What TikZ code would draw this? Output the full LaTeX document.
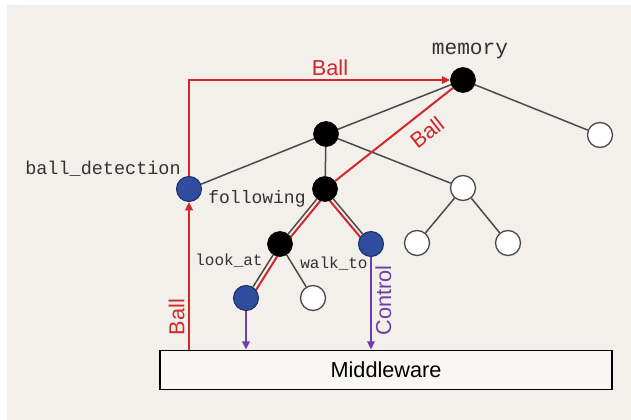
\documentclass[tikz,border=0pt]{standalone}
\usepackage{fontspec}
\setmainfont{Liberation Sans}
\setmonofont{Liberation Mono}
\usetikzlibrary{arrows.meta}
\usetikzlibrary{positioning}
\usetikzlibrary{backgrounds}
\definecolor{paper}{HTML}{F3EFEB}
\definecolor{ballred}{HTML}{D0282B}
\definecolor{ctrlpurple}{HTML}{6B3FA8}
\definecolor{behblue}{HTML}{2F4C9F}
\definecolor{edgegray}{HTML}{4A4A4A}

\begin{document}
\begin{tikzpicture}[x=0.6pt, y=-0.6pt,
	active/.style={circle, draw=black, fill=black, minimum size=15pt, inner sep=0pt},
	leaf/.style={circle, draw=behblue!60!black, fill=behblue, minimum size=15pt, inner sep=0pt, line width=0.6pt},
	idle/.style={circle, draw=edgegray, fill=white, minimum size=15pt, inner sep=0pt, line width=0.8pt},
	tag/.style={font=\ttfamily\fontsize{#1}{13}\selectfont, inner sep=0pt, text=black!80},
	edge/.style={draw=edgegray, line width=0.9pt},
	flow/.style={draw=ballred, line width=1.2pt},
	ctrl/.style={draw=ctrlpurple, line width=1.2pt},
	msg/.style={font=\fontsize{13}{15}\selectfont, inner sep=2pt},
	tip/.style={-{Triangle[length=5pt, width=4.5pt]}}
]
	\useasboundingbox (0, 0) rectangle (631, 420);
	\begin{scope}[on background layer]
		\fill[paper] (7, 5) rectangle (631, 420);
	\end{scope}

	\draw (463, 80) node[active] (memory) {};
	\draw (326, 134) node[active] (inner) {};
	\draw (600, 135) node[idle] (w1) {};
	\draw (189, 189) node[leaf] (detect) {};
	\draw (325, 189) node[active] (following) {};
	\draw (463, 188) node[idle] (w2) {};
	\draw (280, 244) node[active] (look) {};
	\draw (371, 244) node[leaf] (walkto) {};
	\draw (417, 243) node[idle] (w3) {};
	\draw (508, 243) node[idle] (w4) {};
	\draw (246, 298) node[leaf] (lookat) {};
	\draw (313, 298) node[idle] (w5) {};

	\draw (470, 51) node[tag=12.7] (memlabel) {memory};
	\draw (103, 169) node[tag=11.1] (detectlabel) {ball\_detection};
	\draw (257, 199) node[tag=10.8] (followlabel) {following};
	\draw (229, 261) node[tag=9.6] (looklabel) {look\_at};
	\draw (334, 264) node[tag=9.6] (walklabel) {walk\_to};

	\draw (386, 370) node[draw=black, line width=1pt, fill=paper!50!white, minimum width=271pt, minimum height=23.4pt, msg] (mw) {Middleware};

	\foreach \a/\b in {memory/inner, memory/w1, inner/detect, inner/following, inner/w2, following/look, following/walkto, w2/w3, w2/w4, look/lookat, look/w5}
		\draw[edge] (\a) -- (\b);

	\begin{scope}[on background layer]
		\draw[flow] ([xshift=3pt]following.center) -- ([xshift=3pt]look.center) -- ([xshift=3pt]lookat.center);
		\draw[flow] ([xshift=-3pt]following.center) -- ([xshift=-3pt]walkto.center);
	\end{scope}
	\draw[flow] (following) -- (memory) node[pos=0.68, sloped, below=4pt, msg, text=ballred] {Ball};

	\draw[flow, tip] (detect.north) |- (memory.west) node[pos=0.77, above, msg, text=ballred] {Ball};
	\draw[flow, tip] (mw.north -| detect) -- (detect.south) node[pos=0.22, sloped, above, msg, text=ballred] {Ball};

	\draw[ctrl, tip] (lookat.south) -- (mw.north -| lookat);
	\draw[ctrl, tip] (walkto.south) -- (mw.north -| walkto) node[pos=0.47, rotate=90, below, msg, text=ctrlpurple] {Control};

\end{tikzpicture}
\end{document}
